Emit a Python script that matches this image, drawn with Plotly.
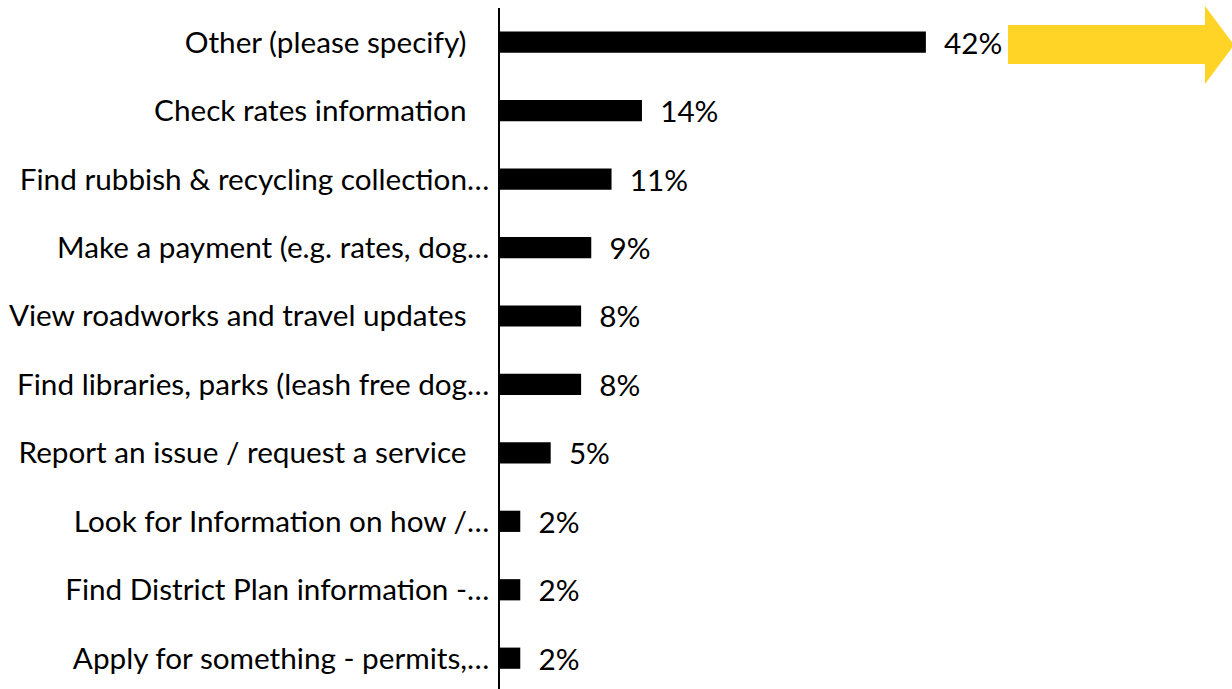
import plotly.graph_objects as go

# Survey responses: what people came to the website to do
categories = [
    "Other (please specify)",
    "Check rates information",
    "Find rubbish & recycling collection…",
    "Make a payment (e.g. rates, dog…",
    "View roadworks and travel updates",
    "Find libraries, parks (leash free dog…",
    "Report an issue / request a service",
    "Look for Information on how /…",
    "Find District Plan information -…",
    "Apply for something - permits,…",
]
percent = [42, 14, 11, 9, 8, 8, 5, 2, 2, 2]

FONT = "Lato, 'Liberation Sans', sans-serif"
NB = "\u00a0"
FS = 29.7

# full labels keep a little trailing padding, truncated ones sit flush to the axis
tick_text = [c if c.endswith("…") else c + NB * 3 for c in categories]

W, H = 1232, 689
LEFT, TOP = 500, 8

fig = go.Figure(
    go.Bar(
        y=categories,
        x=percent,
        orientation="h",
        marker=dict(color="black", line=dict(width=0)),
        text=[f"{NB * 2}{v}%" for v in percent],
        textposition="outside",
        constraintext="none",
        textfont=dict(family=FONT, size=FS, color="black"),
        cliponaxis=False,
        hoverinfo="skip",
    )
)

fig.update_layout(
    width=W,
    height=H,
    margin=dict(l=LEFT, r=0, t=TOP, b=0),
    paper_bgcolor="white",
    plot_bgcolor="white",
    showlegend=False,
    bargap=0.69,
    font=dict(family=FONT, size=FS, color="black"),
)

fig.update_xaxes(
    range=[0, (W - LEFT) / 10.14],
    visible=False,
    showgrid=False,
    zeroline=False,
)
fig.update_yaxes(
    type="category",
    range=[9.45, -0.5],
    tickmode="array",
    tickvals=categories,
    ticktext=tick_text,
    showline=True,
    linecolor="black",
    linewidth=1.5,
    showgrid=False,
    zeroline=False,
    ticks="",
    ticklabelstandoff=3,
    tickfont=dict(family=FONT, size=FS, color="black"),
)

# Yellow block arrow pointing right, top-right corner
plot_w = W - LEFT
plot_h = H - TOP


def px(xp):
    return (xp - LEFT) / plot_w


def py(yp):
    return (H - yp) / plot_h


pts = [
    (1008, 25), (1205, 25), (1205, 6), (1234, 45),
    (1205, 84), (1205, 64), (1008, 64),
]
path = "M " + " L ".join(f"{px(x):.5f},{py(y):.5f}" for x, y in pts) + " Z"
fig.add_shape(
    type="path",
    path=path,
    xref="paper",
    yref="paper",
    fillcolor="#FFD426",
    line=dict(width=0),
    layer="above",
)

fig.write_html("out.html")
